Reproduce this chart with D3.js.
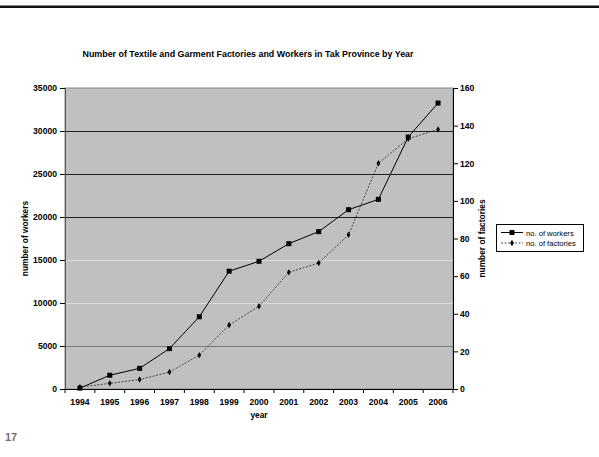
<!DOCTYPE html>
<html>
<head>
<meta charset="utf-8">
<script src="https://cdn.jsdelivr.net/npm/d3@7/dist/d3.min.js"></script>
<style>
  html, body { margin: 0; padding: 0; background: #fff; }
  svg { display: block; font-family: "Liberation Sans", Arial, sans-serif; }
</style>
</head>
<body>
<svg id="chart" width="599" height="457"></svg>
<script>
// Tak Province textile & garment industry, 1994-2006
const years = ["1994","1995","1996","1997","1998","1999","2000","2001","2002","2003","2004","2005","2006"];
const workers = [100, 1600, 2400, 4700, 8400, 13700, 14850, 16900, 18300, 20850, 22050, 29300, 33250];
const factories = [1, 3, 5, 9, 18, 34, 44, 62, 67, 82, 120, 133, 138];
const workerTicks = [0, 5000, 10000, 15000, 20000, 25000, 30000, 35000];
const factoryTicks = [0, 20, 40, 60, 80, 100, 120, 140, 160];
const seriesNames = ["no. of workers", "no. of factories"];

const svg = d3.select("#chart");
const plot = { left: 65, right: 453, top: 88, bottom: 389 };
const tickFont = 8.6;

// slide rule across the top
svg.append("rect").attr("x", 0).attr("y", 5.5).attr("width", 599).attr("height", 2.5).attr("fill", "#111");

// page number
svg.append("text").attr("x", 5).attr("y", 441)
  .attr("font-size", 11).attr("font-weight", "bold").attr("fill", "#7b6b6b").text("17");

const x = d3.scaleBand().domain(years).range([plot.left, plot.right]).padding(0);
const yL = d3.scaleLinear().domain([0, 35000]).range([plot.bottom, plot.top]);
const yR = d3.scaleLinear().domain([0, 160]).range([plot.bottom, plot.top]);
const cx = d => x(d) + x.bandwidth() / 2;

// plot background
svg.append("rect")
  .attr("x", plot.left).attr("y", plot.top)
  .attr("width", plot.right - plot.left).attr("height", plot.bottom - plot.top)
  .attr("fill", "#c0c0c0").attr("stroke", "#8a8a8a").attr("stroke-width", 1);

// horizontal gridlines
const gridColor = v => v >= 20000 ? "#1e1e1e" : (v >= 10000 ? "#dadada" : "#7a7a7a");
svg.append("g").selectAll("line")
  .data(workerTicks.filter(v => v > 0 && v < 35000))
  .join("line")
  .attr("x1", plot.left).attr("x2", plot.right)
  .attr("y1", d => Math.round(yL(d)) + 0.5).attr("y2", d => Math.round(yL(d)) + 0.5)
  .attr("stroke", gridColor).attr("stroke-width", 1);

// left axis
const axL = svg.append("g").attr("transform", `translate(${plot.left},0)`)
  .call(d3.axisLeft(yL).tickValues(workerTicks).tickSize(5).tickPadding(3).tickFormat(d3.format("d")));
axL.select(".domain").attr("stroke", "#555");
axL.selectAll("text").attr("font-size", tickFont).attr("font-weight", "bold").attr("font-family", "Liberation Sans, Arial, sans-serif");

// right axis
const axR = svg.append("g").attr("transform", `translate(${plot.right},0)`)
  .call(d3.axisRight(yR).tickValues(factoryTicks).tickSize(5).tickPadding(2).tickFormat(d3.format("d")));
axR.select(".domain").attr("stroke", "#000");
axR.selectAll("text").attr("font-size", tickFont).attr("font-weight", "bold").attr("font-family", "Liberation Sans, Arial, sans-serif");

// bottom axis: labels centred on years, tick marks between categories
const axB = svg.append("g").attr("transform", `translate(0,${plot.bottom})`)
  .call(d3.axisBottom(x).tickSize(0).tickPadding(10));
axB.select(".domain").attr("stroke", "#000");
axB.selectAll("text").attr("font-size", tickFont).attr("font-weight", "bold").attr("font-family", "Liberation Sans, Arial, sans-serif");
svg.append("g").selectAll("line")
  .data(years.map(y => x(y)).concat([x.range()[1]]))
  .join("line")
  .attr("x1", d => d).attr("x2", d => d)
  .attr("y1", plot.bottom).attr("y2", plot.bottom + 4)
  .attr("stroke", "#000");

// axis titles
svg.append("text").attr("x", 259).attr("y", 418).attr("text-anchor", "middle")
  .attr("font-size", 8.4).attr("font-weight", "bold").text("year");
svg.append("text").attr("transform", `translate(28,${(plot.top + plot.bottom) / 2}) rotate(-90)`)
  .attr("text-anchor", "middle").attr("font-size", 8.4).attr("font-weight", "bold").text("number of workers");
svg.append("text").attr("transform", `translate(485,${(plot.top + plot.bottom) / 2}) rotate(-90)`)
  .attr("text-anchor", "middle").attr("font-size", 8.4).attr("font-weight", "bold").text("number of factories");

// title
svg.append("text").attr("x", 248).attr("y", 57).attr("text-anchor", "middle")
  .attr("font-size", 8.8).attr("font-weight", "bold")
  .attr("textLength", 331).attr("lengthAdjust", "spacingAndGlyphs")
  .text("Number of Textile and Garment Factories and Workers in Tak Province by Year");

// workers series (left axis)
svg.append("path").datum(years.map((y, i) => [cx(y), yL(workers[i])]))
  .attr("d", d3.line()).attr("fill", "none").attr("stroke", "#000").attr("stroke-width", 1);
svg.append("g").selectAll("rect").data(years)
  .join("rect")
  .attr("x", (d) => cx(d) - 2.5).attr("y", (d, i) => yL(workers[i]) - 2.5)
  .attr("width", 5).attr("height", 5).attr("fill", "#000");

// factories series (right axis)
svg.append("path").datum(years.map((y, i) => [cx(y), yR(factories[i])]))
  .attr("d", d3.line()).attr("fill", "none").attr("stroke", "#222")
  .attr("stroke-width", 0.8).attr("stroke-dasharray", "2,1.5");
svg.append("g").selectAll("path").data(years)
  .join("path")
  .attr("transform", (d, i) => `translate(${cx(d)},${yR(factories[i])})`)
  .attr("d", d3.symbol(d3.symbolDiamond, 12)).attr("fill", "#000");

// legend
const lg = svg.append("g");
lg.append("rect").attr("x", 496.5).attr("y", 224.5).attr("width", 87).attr("height", 27)
  .attr("fill", "#fff").attr("stroke", "#000").attr("stroke-width", 1);
const rows = [232.5, 243];
// workers entry
lg.append("line").attr("x1", 501).attr("x2", 523).attr("y1", rows[0]).attr("y2", rows[0]).attr("stroke", "#000");
lg.append("rect").attr("x", 509.5).attr("y", rows[0] - 2.5).attr("width", 5).attr("height", 5).attr("fill", "#000");
// factories entry
lg.append("line").attr("x1", 501).attr("x2", 523).attr("y1", rows[1]).attr("y2", rows[1])
  .attr("stroke", "#222").attr("stroke-width", 0.8).attr("stroke-dasharray", "2,1.5");
lg.append("path").attr("transform", `translate(512,${rows[1]})`)
  .attr("d", d3.symbol(d3.symbolDiamond, 12)).attr("fill", "#000");
lg.selectAll("text.lbl").data(seriesNames).join("text")
  .attr("class", "lbl").attr("x", 526).attr("y", (d, i) => rows[i] + 3)
  .attr("font-size", 7.6).text(d => d);
</script>
</body>
</html>
